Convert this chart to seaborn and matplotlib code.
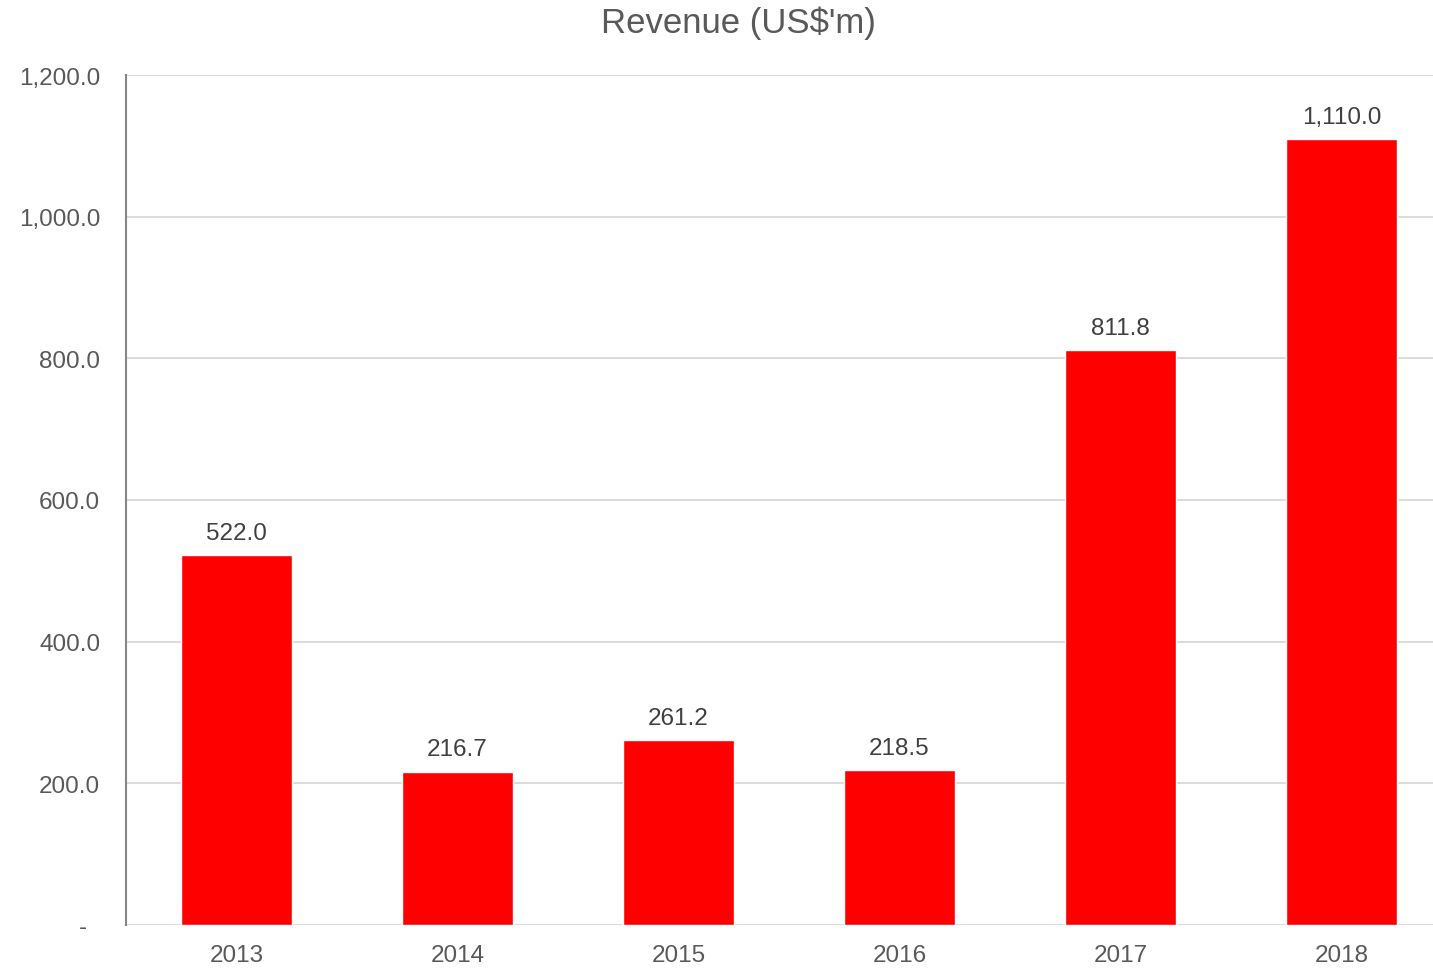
import matplotlib
matplotlib.use("Agg")
import matplotlib.pyplot as plt
import seaborn as sns
import pandas as pd
from matplotlib.ticker import FuncFormatter

years = ["2013", "2014", "2015", "2016", "2017", "2018"]
revenue = [522.0, 216.7, 261.2, 218.5, 811.8, 1110.0]
yticks = [0, 200, 400, 600, 800, 1000, 1200]
title = "Revenue (US$'m)"

sns.set_theme(style="white")
plt.rcParams['font.family'] = ['Liberation Sans', 'DejaVu Sans']

df = pd.DataFrame({"year": years, "revenue": revenue})

fig = plt.figure(figsize=(14.33, 9.70), dpi=100)
ax = fig.add_axes([126/1433, 44/970, 1326/1433, 850/970])

sns.barplot(data=df, x="year", y="revenue", color="#FF0000", saturation=1,
            width=0.5, ax=ax, zorder=3)

ax.set_xlim(-0.5, 5.5)
ax.set_ylim(0, 1200)
ax.set_yticks(yticks)
ax.yaxis.set_major_formatter(FuncFormatter(lambda v, p: "-  " if v == 0 else f"{v:,.1f}"))
ax.grid(axis="y", color="#D9D9D9", linewidth=1.3, zorder=0)
ax.set_axisbelow(True)

for s in ["top", "right", "bottom"]:
    ax.spines[s].set_visible(False)
ax.spines["left"].set_color("#868686")
ax.spines["left"].set_linewidth(1.5)

ax.tick_params(axis="y", length=0, pad=18.5, labelsize=17.5, labelcolor="#595959")
ax.tick_params(axis="x", length=0, pad=14, labelsize=17.5, labelcolor="#595959")
ax.set_xlabel("")
ax.set_ylabel("")

for c in ax.containers:
    ax.bar_label(c, labels=[f"{v:,.1f}" for v in revenue], padding=8,
                 fontsize=17.5, color="#404040")

fig.text(738/1433, 1 - 23/970, title, ha="center", va="center",
         fontsize=25, color="#595959")

fig.savefig("out.png", dpi=100)
